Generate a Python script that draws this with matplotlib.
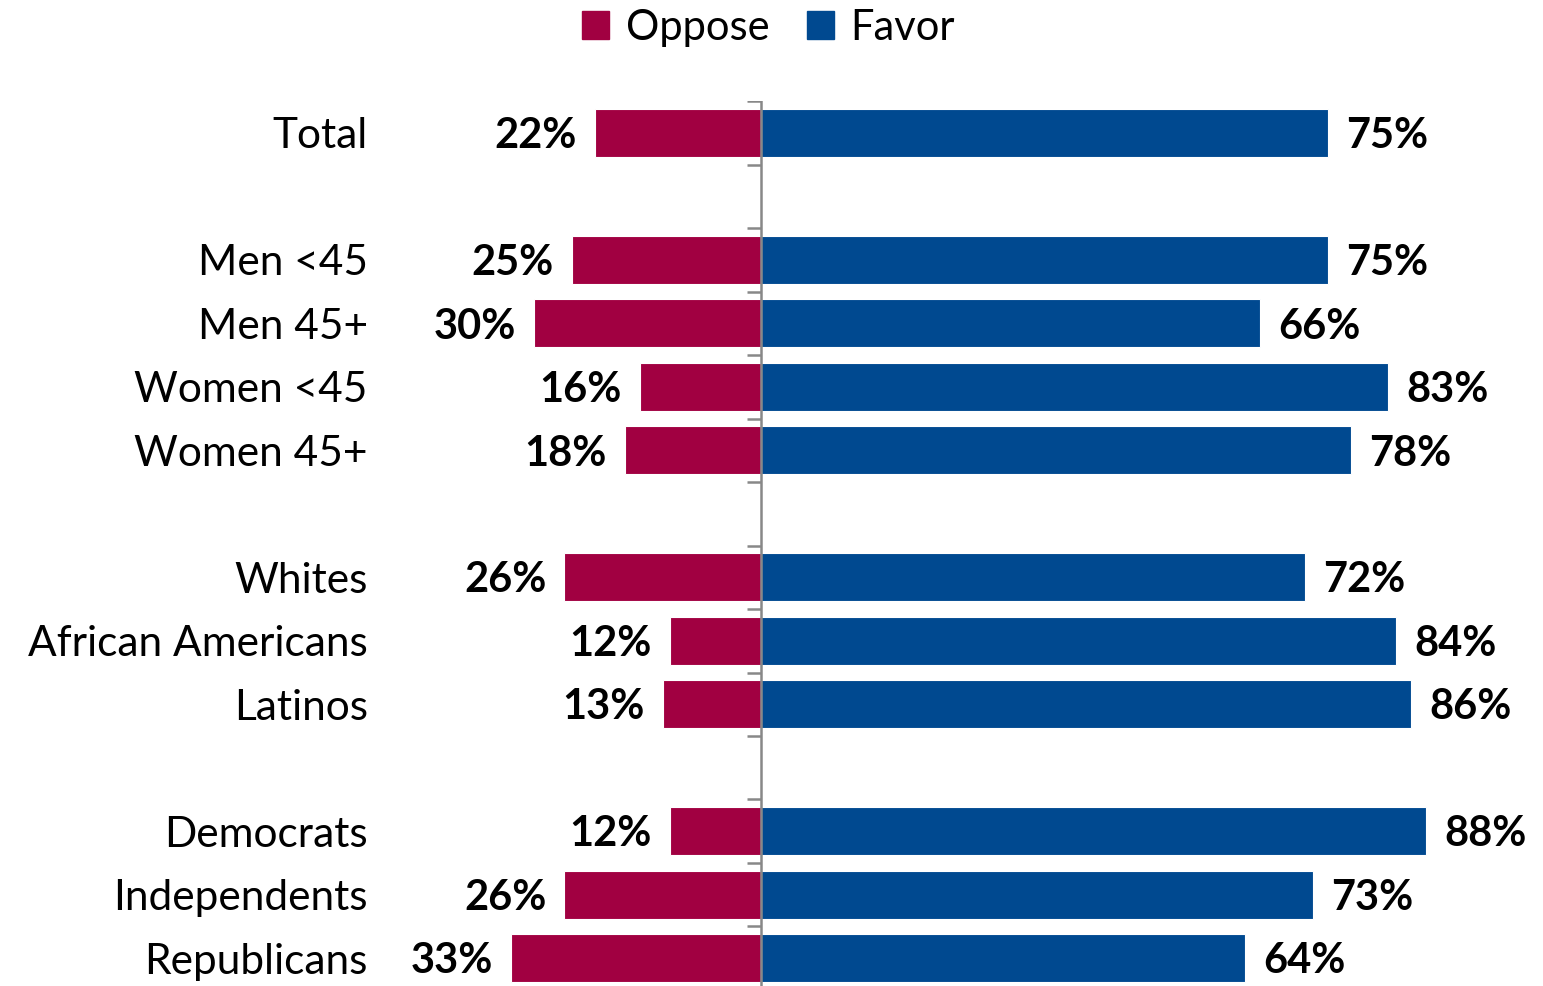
import numpy as np
import matplotlib.pyplot as plt
from matplotlib.patches import Patch

plt.rcParams['font.family'] = ['Lato', 'DejaVu Sans']

groups = ['Total', '', 'Men <45', 'Men 45+', 'Women <45', 'Women 45+', '',
          'Whites', 'African Americans', 'Latinos', '',
          'Democrats', 'Independents', 'Republicans']
oppose = [22, None, 25, 30, 16, 18, None, 26, 12, 13, None, 12, 26, 33]
favor = [75, None, 75, 66, 83, 78, None, 72, 84, 86, None, 88, 73, 64]

col_oppose = '#A10041'
col_favor = '#004990'

def main():
    fig = plt.figure(figsize=(15.43, 9.86), dpi=100)
    ax = fig.add_axes([0.2482, -0.004, 0.7349, 0.9014])

    pos = np.arange(len(groups))
    rows = [i for i in pos if favor[i] is not None]
    opp = np.array([oppose[i] for i in rows])
    fav = np.array([favor[i] for i in rows])

    ax.barh(rows, -opp, height=0.76, color=col_oppose, edgecolor='white', linewidth=0.8)
    ax.barh(rows, fav, height=0.76, color=col_favor, edgecolor='white', linewidth=0.8)

    for r, o, f in zip(rows, opp, fav):
        ax.text(-o - 2.4, r + 0.05, f'{o}%', ha='right', va='center',
                fontsize=30, fontweight='bold')
        ax.text(f + 2.4, r + 0.05, f'{f}%', ha='left', va='center',
                fontsize=30, fontweight='bold')

    # center axis with small ticks between slots
    ax.axvline(0, color='#888888', lw=1.8, zorder=3)
    bounds = np.arange(len(groups) + 1) - 0.5
    ax.hlines(bounds, -1.85, 0, color='#888888', lw=1.8, zorder=3)

    ax.set_xlim(-50, 100)
    ax.set_ylim(len(groups) - 0.5, -0.5)
    ax.set_xticks([])
    ax.set_yticks(pos)
    ax.set_yticklabels(groups, fontsize=30.5)
    ax.tick_params(axis='y', length=0, pad=11)
    for s in ax.spines.values():
        s.set_visible(False)

    handles = [Patch(color=col_oppose, label='Oppose'), Patch(color=col_favor, label='Favor')]
    fig.legend(handles=handles, loc='upper center', bbox_to_anchor=(0.498, 1.029), ncol=2,
               frameon=False, fontsize=30, handlelength=0.65, handleheight=0.65,
               handletextpad=0.4, columnspacing=0.9)

    fig.savefig('out.png', dpi=100)

if __name__ == "__main__":
    main()
